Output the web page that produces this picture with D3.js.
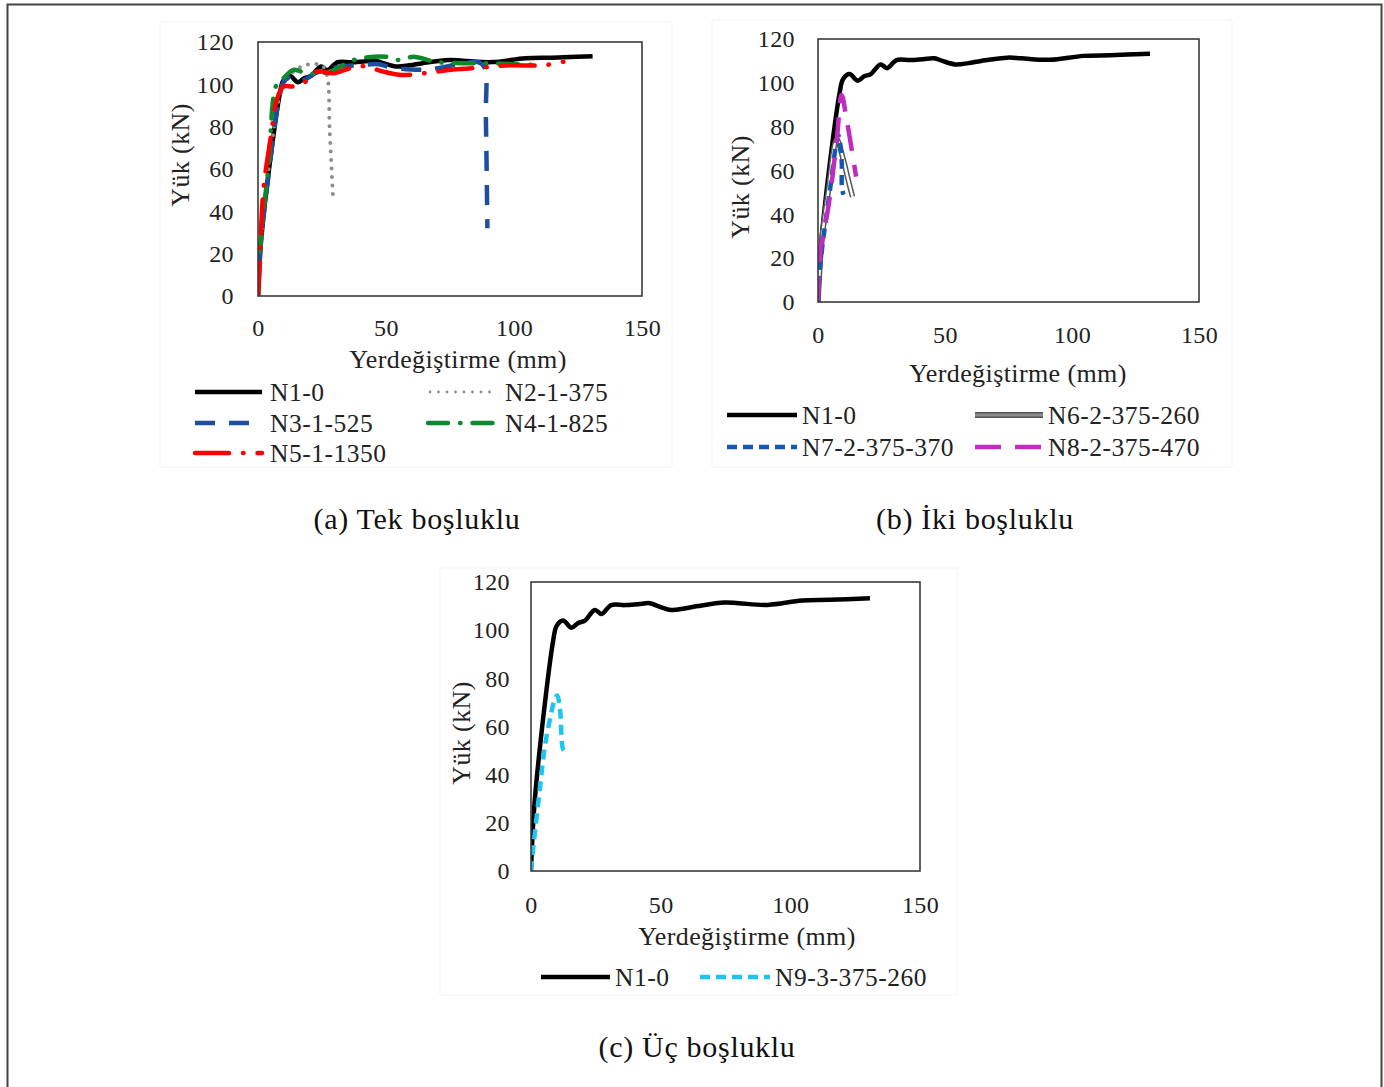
<!DOCTYPE html>
<html>
<head>
<meta charset="utf-8">
<script src="https://cdn.jsdelivr.net/npm/d3@7"></script>
<style>
  body { margin: 0; background: #fff; }
  svg text { font-family: "Liberation Serif", "Times New Roman", serif; fill: #222; }
  .tick text { font-size: 24px; letter-spacing: 0.4px; }
  .title { font-size: 26px; letter-spacing: 0.4px; }
  .legend text { font-size: 25.5px; letter-spacing: 0.5px; }
  .caption { font-size: 30px; letter-spacing: 0.7px; fill: #111; }
</style>
</head>
<body>
<svg id="fig" width="1384" height="1087"></svg>
<script>
// axis ticks
const xTicks = [0, 50, 100, 150];
const yTicks = [0, 20, 40, 60, 80, 100, 120];

// load (kN) vs displacement (mm)
const n1_0 = [[0,0],[1.5,30],[8.6,96],[9.9,101.8],[12.4,104],[15.6,101],[18.2,103],[20.8,104],[24.6,108.4],[27.2,106.7],[30.9,110.4],[36.2,110.4],[41.3,110.8],[45.8,111.2],[49,110],[54,108.4],[59.2,109],[64.3,110],[74.6,111.5],[80,111.2],[91.3,110.5],[104.5,112.3],[115,112.6],[130.7,113.3]];
const n2_1_375 = [[0,0],[1,22],[4,58],[8,92],[10,101],[13,105],[17,108.5],[21,109.5],[25,109],[27,104],[28,78],[29.4,44.5]];
const n3_1_525 = [[0,0],[1,24],[4,56],[8,92],[10,101],[12,103],[15,101],[18,102],[22,105],[27,107],[33,108.5],[40,109],[47,109.5],[52,108],[60,107],[66,107],[72,108],[80,110],[86,110.5],[88.5,108],[89,85],[89.6,32]];
const n4_1_825 = [[0,0],[1,25],[4,60],[7.3,100],[10,103],[13.8,106.8],[17,106],[21.6,105],[28,106],[35.9,110.7],[39.8,112.3],[50,113],[55,111.5],[60.7,113],[69.8,110.5],[80,110],[88,110],[100,109.5],[111,109]];
const n5_1_1350 = [[0,0],[0.5,10],[2.1,50],[5,75],[7.3,92.6],[9.9,98.9],[13.8,99],[17.7,100.5],[22.9,106],[29.4,105.2],[35.9,107.6],[41.1,108.6],[49,106],[56.1,104.4],[64.6,105.2],[70,106],[76.3,107],[88,108],[98.4,109],[111.5,109],[119.3,110.7]];
const n6_2_375_260 = [[0,0],[1.5,28],[4,50],[7.4,74],[10,64.8],[11.9,55.7],[13.6,48]];
const n7_2_375_370 = [[0,0],[0.8,16],[4.7,51],[8,76],[9.3,64.8],[9.4,52.7],[10,48.9]];
const n8_2_375_470 = [[0,0],[0.8,22],[4.1,43.5],[7.4,74],[9.3,94.5],[11.3,83],[13.3,69.4],[15,57.2]];
const n9_3_375_260 = [[0,0],[0.9,10],[3.5,35],[5.4,52],[7.3,63],[9.2,71.5],[10.1,72.9],[11.2,67],[11.8,55],[12.4,50.5],[14.3,48.3]];

const styles = {
  'N1-0':         { data: n1_0,         color: '#000000', width: 4.5, dash: null },
  'N2-1-375':     { data: n2_1_375,     color: '#8a8d92', width: 4,   dash: '0 8.5', cap: 'round' },
  'N3-1-525':     { data: n3_1_525,     color: '#1d4f9c', width: 4.5, dash: '20 14' },
  'N4-1-825':     { data: n4_1_825,     color: '#10882e', width: 4.5, dash: '20 12 0.5 12', cap: 'round' },
  'N5-1-1350':    { data: n5_1_1350,    color: '#ff0000', width: 4.5, dash: '34 14 0.5 14', cap: 'round' },
  'N6-2-375-260': { data: n6_2_375_260, color: '#555555', width: 5.5, dash: null, double: true },
  'N7-2-375-370': { data: n7_2_375_370, color: '#1458b4', width: 4.5, dash: '10 6' },
  'N8-2-375-470': { data: n8_2_375_470, color: '#c02cc0', width: 4.5, dash: '26 14' },
  'N9-3-375-260': { data: n9_3_375_260, color: '#1cc6f2', width: 4.5, dash: '10 6' }
};

const svg = d3.select('#fig');
svg.append('rect').attr('width', 1384).attr('height', 1087).attr('fill', '#fff');
svg.append('rect').attr('x', 7.5).attr('y', 4.5).attr('width', 1374).attr('height', 1095)
  .attr('fill', 'none').attr('stroke', '#444').attr('stroke-width', 2);

function strokeLine(sel, st, lw, inner) {
  if (st.double) {
    sel.clone().attr('stroke', st.color).attr('stroke-width', lw || st.width).attr('fill', 'none')
      .attr('stroke-linejoin', 'round');
    sel.attr('stroke', inner || '#fff').attr('stroke-width', (lw || st.width) - 3).attr('fill', 'none')
      .attr('stroke-linejoin', 'round').raise();
    return;
  }
  sel.attr('fill', 'none')
    .attr('stroke', st.color)
    .attr('stroke-width', lw || st.width)
    .attr('stroke-dasharray', st.dash)
    .attr('stroke-linecap', st.cap || 'butt')
    .attr('stroke-linejoin', 'round');
}

function panel(p) {
  const g = svg.append('g');
  g.append('rect').attr('x', p.area[0]).attr('y', p.area[1]).attr('width', p.area[2]).attr('height', p.area[3])
    .attr('fill', 'none').attr('stroke', '#f4f4f4');

  const x = d3.scaleLinear().domain([0, 150]).range([p.x0, p.x1]);
  const y = d3.scaleLinear().domain([0, 120]).range([p.y0, p.y1]);

  g.append('g').attr('transform', `translate(${p.x0},0)`)
    .call(d3.axisLeft(y).tickValues(yTicks).tickSize(0).tickPadding(p.ypad))
    .call(a => a.select('.domain').remove());
  g.append('g').attr('transform', `translate(0,${p.y0})`)
    .call(d3.axisBottom(x).tickValues(xTicks).tickSize(0).tickPadding(p.xpad))
    .call(a => a.select('.domain').remove());
  g.selectAll('.tick text').attr('fill', '#222');

  const line = d3.line().x(d => x(d[0])).y(d => y(d[1])).curve(d3.curveCatmullRom.alpha(0.5));
  const clip = 'clip' + p.id;
  g.append('clipPath').attr('id', clip).append('rect')
    .attr('x', p.x0).attr('y', p.y1).attr('width', p.x1 - p.x0).attr('height', p.y0 - p.y1);
  const lines = g.append('g').attr('clip-path', `url(#${clip})`);
  p.series.forEach(name => {
    const st = styles[name];
    strokeLine(lines.append('path').attr('d', line(st.data)), st);
  });

  g.append('rect').attr('x', p.x0).attr('y', p.y1).attr('width', p.x1 - p.x0).attr('height', p.y0 - p.y1)
    .attr('fill', 'none').attr('stroke', '#3a3a3a').attr('stroke-width', 1.6);

  g.append('text').attr('class', 'title').attr('text-anchor', 'middle')
    .attr('transform', `translate(${p.ytitle[0]},${p.ytitle[1]}) rotate(-90)`).attr('dy', '0.35em').text('Yük (kN)');
  g.append('text').attr('class', 'title').attr('text-anchor', 'middle')
    .attr('x', p.xtitle[0]).attr('y', p.xtitle[1]).attr('dy', '0.35em').text('Yerdeğiştirme (mm)');

  const lg = g.append('g').attr('class', 'legend');
  p.legend.forEach(([name, lx0, lx1, tx, ly]) => {
    const st = styles[name];
    const lw = st.double ? 6 : (name === 'N2-1-375' ? 2.8 : 4.5);
    strokeLine(lg.append('line').attr('x1', lx0).attr('x2', lx1).attr('y1', ly).attr('y2', ly), st, lw, '#8c8c8c');
    lg.append('text').attr('x', tx).attr('y', ly).attr('dy', '0.35em').text(name);
  });

  g.append('text').attr('class', 'caption').attr('text-anchor', 'middle')
    .attr('x', p.caption[0]).attr('y', p.caption[1]).attr('dy', '0.35em').text(p.label);
}

panel({
  id: 'a', area: [160, 22, 512, 445],
  x0: 258, x1: 642, y0: 296, y1: 42, ypad: 24, xpad: 23,
  ytitle: [180, 155], xtitle: [458, 359],
  series: ['N1-0', 'N2-1-375', 'N3-1-525', 'N4-1-825', 'N5-1-1350'],
  legend: [
    ['N1-0', 195, 262, 270, 392], ['N2-1-375', 430, 492, 505, 392],
    ['N3-1-525', 195, 262, 270, 423], ['N4-1-825', 428, 496, 505, 423],
    ['N5-1-1350', 195, 262, 270, 453]
  ],
  caption: [417, 518], label: '(a) Tek boşluklu'
});

panel({
  id: 'b', area: [712, 20, 520, 447],
  x0: 818, x1: 1199, y0: 302, y1: 39, ypad: 23, xpad: 24,
  ytitle: [740, 187], xtitle: [1018, 373],
  series: ['N1-0', 'N6-2-375-260', 'N7-2-375-370', 'N8-2-375-470'],
  legend: [
    ['N1-0', 727, 797, 802, 415], ['N6-2-375-260', 975, 1043, 1048, 415],
    ['N7-2-375-370', 727, 797, 802, 447], ['N8-2-375-470', 975, 1043, 1048, 447]
  ],
  caption: [975, 518], label: '(b) İki boşluklu'
});

panel({
  id: 'c', area: [440, 568, 517, 427],
  x0: 531, x1: 920, y0: 871, y1: 582, ypad: 21, xpad: 25,
  ytitle: [461, 733], xtitle: [747, 936],
  series: ['N1-0', 'N9-3-375-260'],
  legend: [
    ['N1-0', 541, 610, 615, 977], ['N9-3-375-260', 700, 770, 775, 977]
  ],
  caption: [697, 1046], label: '(c) Üç boşluklu'
});
</script>
</body>
</html>
